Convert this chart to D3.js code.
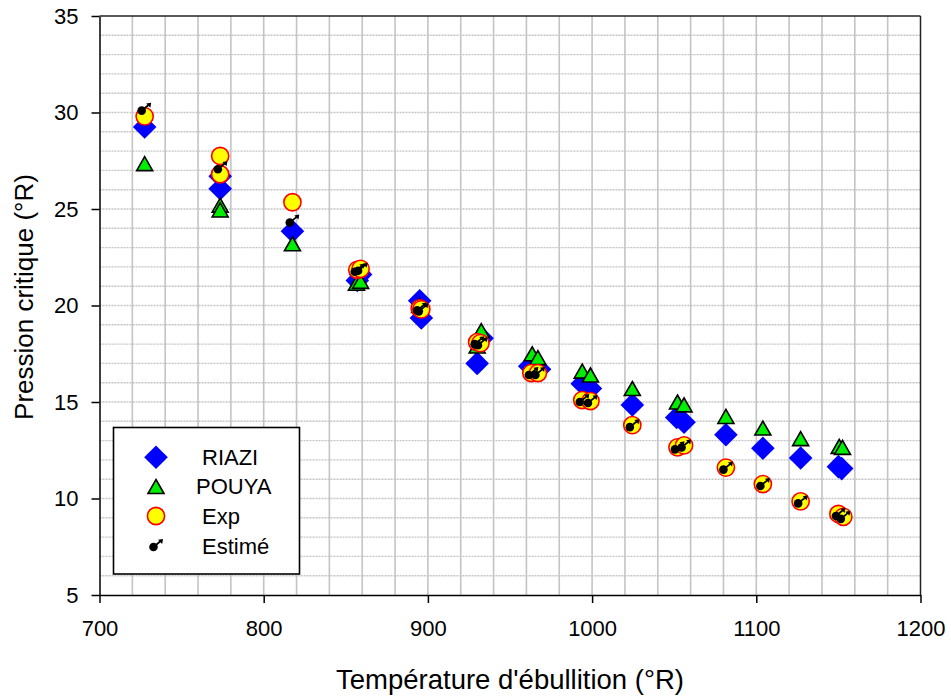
<!DOCTYPE html>
<html>
<head>
<meta charset="utf-8">
<script src="https://cdn.jsdelivr.net/npm/d3@7"></script>
<style>
  html, body { margin: 0; padding: 0; background: #fff; }
  svg { display: block; font-family: "Liberation Sans", Arial, sans-serif; }
</style>
</head>
<body>
<svg id="chart" width="951" height="697"></svg>
<script>
// ---------------- data ----------------
const riaziX = [727.5, 773.5, 773.5, 817.5, 857, 859, 895, 896, 930, 933, 962, 968, 994, 999, 1024.5, 1051.5, 1056, 1081.5, 1104, 1127, 1150, 1152];
const riaziY = [29.25, 26.7, 26.05, 23.85, 21.3, 21.6, 20.25, 19.35, 17.0, 18.3, 16.85, 16.7, 15.95, 15.7, 14.85, 14.2, 13.95, 13.3, 12.6, 12.1, 11.65, 11.55];

const pouyaX = [727.5, 773.5, 773.5, 817.5, 856.5, 859, 895, 930, 932.5, 963.5, 967, 994, 999, 1024.5, 1052, 1056, 1081.5, 1104, 1127, 1150.5, 1152.5];
const pouyaY = [27.35, 25.2, 24.95, 23.2, 21.15, 21.25, 20.0, 17.9, 18.7, 17.5, 17.3, 16.6, 16.4, 15.7, 15.0, 14.85, 14.25, 13.65, 13.1, 12.7, 12.65];

const expX = [727.5, 773.5, 773.5, 817.5, 857, 859, 895, 896, 930, 932, 963, 967, 994, 999, 1024.5, 1052, 1056, 1081.5, 1104, 1127, 1150, 1153];
const expY = [29.8, 27.75, 26.8, 25.35, 21.85, 21.9, 19.85, 19.8, 18.1, 18.05, 16.5, 16.5, 15.1, 15.05, 13.8, 12.65, 12.75, 11.6, 10.75, 9.85, 9.2, 9.05];

const estX = [727.2, 773.6, 817.4, 857, 859, 895, 896, 930, 932, 963, 967, 994, 999, 1024.5, 1052, 1056, 1081.5, 1104, 1127, 1150, 1153];
const estY = [30.2, 27.16, 24.4, 21.85, 21.9, 19.85, 19.8, 18.1, 18.05, 16.5, 16.5, 15.1, 15.05, 13.8, 12.65, 12.75, 11.6, 10.75, 9.85, 9.2, 9.05];

const xTicks = [700, 800, 900, 1000, 1100, 1200];
const yTicks = [5, 10, 15, 20, 25, 30, 35];
const legendLabels = ["RIAZI", "POUYA", "Exp", "Estimé"];
const xTitle = "Température d'ébullition (°R)";
const yTitle = "Pression critique (°R)";

// ---------------- drawing ----------------
const svg = d3.select("#chart");
const x = d3.scaleLinear().domain([700, 1200]).range([99.5, 920.5]);
const y = d3.scaleLinear().domain([5, 35]).range([595, 16]);

// grid
const grid = svg.append("g");
grid.selectAll("line.v").data(d3.range(720, 1200, 20)).join("line")
  .attr("x1", d => x(d)).attr("x2", d => x(d))
  .attr("y1", y(35)).attr("y2", y(5))
  .attr("stroke", "#c4c4c4").attr("stroke-width", 1.6);
grid.selectAll("line.h").data(d3.range(6, 35, 1)).join("line")
  .attr("x1", x(700)).attr("x2", x(1200))
  .attr("y1", d => y(d)).attr("y2", d => y(d))
  .attr("stroke", "#c4c4c4").attr("stroke-width", 1.4)
  .attr("stroke-dasharray", "2,1");

// frame top/right
svg.append("line").attr("x1", x(700)).attr("x2", x(1200)).attr("y1", y(35)).attr("y2", y(35))
  .attr("stroke", "#222").attr("stroke-width", 1.5);
svg.append("line").attr("x1", x(1200)).attr("x2", x(1200)).attr("y1", y(35)).attr("y2", y(5))
  .attr("stroke", "#222").attr("stroke-width", 1.5);

// axes
const xAxis = svg.append("g").attr("transform", `translate(0,${y(5)})`)
  .call(d3.axisBottom(x).tickValues(xTicks).tickSize(8).tickPadding(17).tickSizeOuter(0).tickFormat(d3.format("d")));
const yAxis = svg.append("g").attr("transform", `translate(${x(700)},0)`)
  .call(d3.axisLeft(y).tickValues(yTicks).tickSize(8).tickPadding(13).tickSizeOuter(0).tickFormat(d3.format("d")));
[xAxis, yAxis].forEach(a => {
  a.select(".domain").attr("stroke", "#000").attr("stroke-width", 1.5);
  a.selectAll(".tick line").attr("stroke", "#000").attr("stroke-width", 1.5);
  a.selectAll(".tick text").attr("font-size", 22).attr("fill", "#000")
    .attr("font-family", "Liberation Sans, Arial, sans-serif");
});

// axis titles
svg.append("text").attr("x", (x(700) + x(1200)) / 2).attr("y", 689)
  .attr("text-anchor", "middle").attr("font-size", 27.5).text(xTitle);
svg.append("text").attr("transform", "translate(33,297) rotate(-90)")
  .attr("text-anchor", "middle").attr("font-size", 26).text(yTitle);

// marker helpers
function diamond(g, cx, cy) {
  const r = 11.8;
  g.append("path").attr("d", `M${cx},${cy - r}L${cx + r},${cy}L${cx},${cy + r}L${cx - r},${cy}Z`)
    .attr("fill", "#0000ff");
}
function triangle(g, cx, cy) {
  const w = 8, h = 7;
  g.append("path").attr("d", `M${cx},${cy - h}L${cx + w},${cy + h}L${cx - w},${cy + h}Z`)
    .attr("fill", "#00ee00").attr("stroke", "#000").attr("stroke-width", 1.6).attr("stroke-linejoin", "miter");
}
function circle(g, cx, cy) {
  g.append("circle").attr("cx", cx).attr("cy", cy).attr("r", 8.6)
    .attr("fill", "#ffff00").attr("stroke", "#ff0000").attr("stroke-width", 1.6);
}
function estime(g, cx, cy) {
  const dx = cx - 2.5, dy = cy + 2;
  const tx = cx + 6.5, ty = cy - 5.5;
  g.append("line").attr("x1", dx).attr("y1", dy).attr("x2", tx - 1.5).attr("y2", ty + 1.3)
    .attr("stroke", "#000").attr("stroke-width", 1.8);
  g.append("path").attr("d", `M${tx + 0.5},${ty - 0.5}L${tx - 4.5},${ty + 0.3}L${tx - 0.3},${ty + 4.5}Z`).attr("fill", "#000");
  g.append("circle").attr("cx", dx).attr("cy", dy).attr("r", 4.3).attr("fill", "#000");
}

// series
const gR = svg.append("g");
riaziX.forEach((v, i) => diamond(gR, x(v), y(riaziY[i])));
const gP = svg.append("g");
pouyaX.forEach((v, i) => triangle(gP, x(v), y(pouyaY[i])));
const gE = svg.append("g");
expX.forEach((v, i) => circle(gE, x(v), y(expY[i])));
const gS = svg.append("g");
estX.forEach((v, i) => estime(gS, x(v), y(estY[i])));

// legend
const lg = svg.append("g");
lg.append("rect").attr("x", 113.5).attr("y", 427.5).attr("width", 186).attr("height", 146.5)
  .attr("fill", "#fff").attr("stroke", "#000").attr("stroke-width", 1.6);
const markerFns = [diamond, triangle, circle, estime];
const rowY = [457.3, 486.5, 516, 545];
const textX = [202, 196, 202, 202];
const baseY = [464.5, 493.5, 523.5, 553.5];
legendLabels.forEach((lab, i) => {
  markerFns[i](lg, 156, rowY[i]);
  lg.append("text").attr("x", textX[i]).attr("y", baseY[i]).attr("font-size", 22).text(lab);
});
</script>
</body>
</html>
